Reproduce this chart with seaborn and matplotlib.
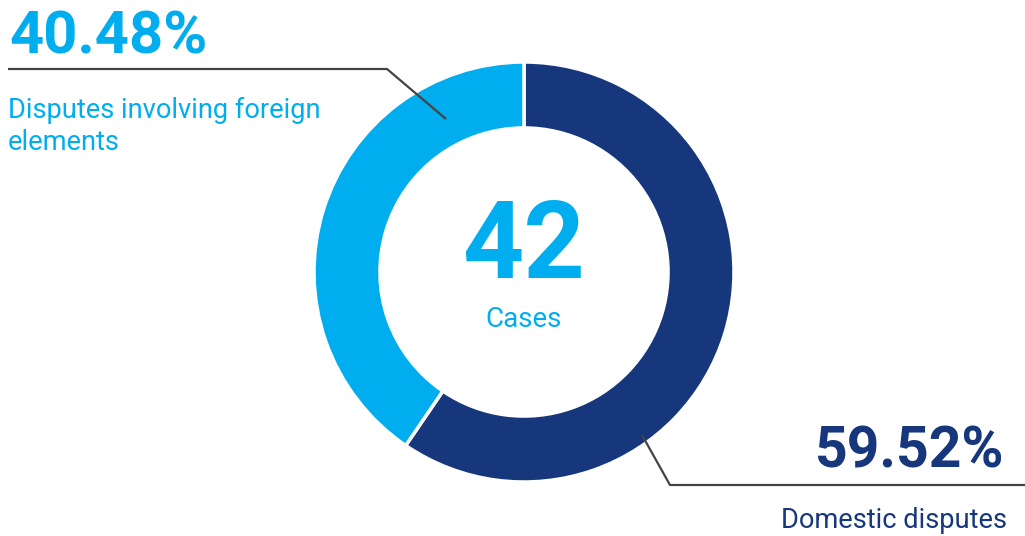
import matplotlib
matplotlib.use("Agg")
import matplotlib.pyplot as plt
import seaborn as sns

# ---- data ----
categories = ["Domestic disputes", "Disputes involving foreign\nelements"]
case_counts = [25, 17]
percent_labels = ["59.52%", "40.48%"]
total_cases = "42"
center_label = "Cases"

sns.set_theme(style="white")
plt.rcParams["font.family"] = ["Roboto", "DejaVu Sans"]

DARK = "#16377C"
LIGHT = "#00AEEF"
LINE = "#444444"

W, H = 1025, 536
fig = plt.figure(figsize=(W / 100, H / 100), dpi=100)
ax = fig.add_axes([0, 0, 1, 1])

cx, cy, R = 524, H - 272, 210
ax.pie(case_counts, colors=[DARK, LIGHT], startangle=90, counterclock=False,
       center=(cx, cy), radius=R,
       wedgeprops=dict(width=R * 0.314, edgecolor="white", linewidth=2.5))
ax.set_xlim(0, W)
ax.set_ylim(0, H)
ax.set_aspect("equal")
ax.axis("off")

# center text
ax.text(cx, H - 278, total_cases, ha="center", va="baseline",
        fontsize=77, fontweight="bold", color=LIGHT)
ax.text(cx, H - 327, center_label, ha="center", va="baseline",
        fontsize=20, color=LIGHT)

# leader lines
ax.plot([8, 387, 446], [H - 69, H - 69, H - 119], color=LINE, lw=1.6,
        solid_capstyle="butt")
ax.plot([642, 670, 1025], [H - 435, H - 485, H - 485], color=LINE, lw=1.6,
        solid_capstyle="butt")

# foreign labels (top-left)
ax.text(9, H - 53, percent_labels[1], ha="left", va="baseline",
        fontsize=43, fontweight="bold", color=LIGHT)
for i, line in enumerate(categories[1].split("\n")):
    ax.text(8, H - 118 - 32 * i, line, ha="left", va="baseline",
            fontsize=19.6, color=LIGHT)

# domestic labels (bottom-right)
ax.text(1004, H - 468, percent_labels[0], ha="right", va="baseline",
        fontsize=41, fontweight="bold", color=DARK)
ax.text(1007, H - 528, categories[0], ha="right", va="baseline",
        fontsize=19.6, color=DARK)

fig.savefig("out.png", dpi=100)
